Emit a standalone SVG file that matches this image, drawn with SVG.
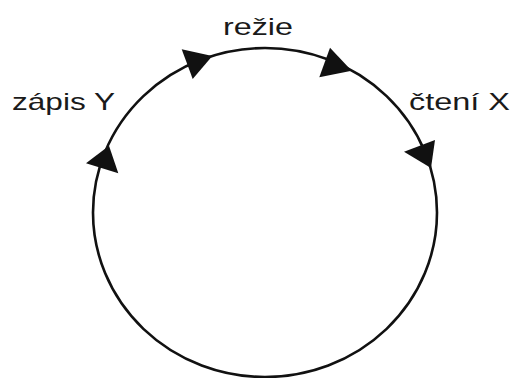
<svg xmlns="http://www.w3.org/2000/svg" width="513" height="378" viewBox="0 0 513 378">
<style>
.lbl{font-family:"Liberation Sans","DejaVu Sans",Arial,sans-serif;font-size:24px;fill:#1a1a1a}
.ring{fill:none;stroke:#111;stroke-width:2.6}
.head{fill:#111}
</style>
<rect width="513" height="378" fill="#fff"/>
<g id="connectors">
<ellipse class="ring" cx="265" cy="212.5" rx="172" ry="164.5"/>
<polygon class="head" points="181.7,49.3 212.3,56 192.7,79"/>
<polygon class="head" points="330,47.7 351.7,70.7 319.3,77.3"/>
<polygon class="head" points="435,140 431,168 404,151.7"/>
<polygon class="head" points="109,145.7 118.3,173.3 86,163.3"/>
</g>
<g id="rezie"><text class="lbl" x="223" y="35" textLength="70" lengthAdjust="spacingAndGlyphs">režie</text></g>
<g id="zapis"><text class="lbl" x="12" y="110" textLength="103" lengthAdjust="spacingAndGlyphs">zápis Y</text></g>
<g id="cteni"><text class="lbl" x="409" y="110" textLength="101" lengthAdjust="spacingAndGlyphs">čtení X</text></g>
</svg>
